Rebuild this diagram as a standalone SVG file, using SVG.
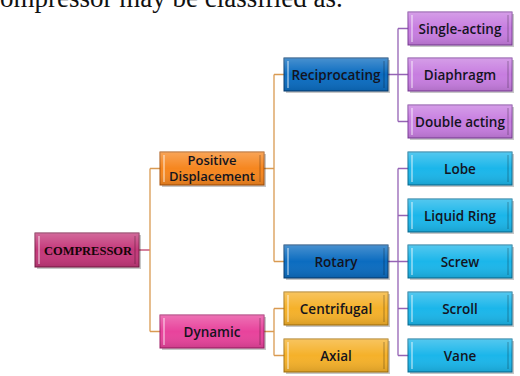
<svg xmlns="http://www.w3.org/2000/svg" width="520" height="376" viewBox="0 0 520 376">
<style>
.bg{fill:#fff}
.lbl{font-family:"Open Sans","DejaVu Sans",sans-serif;font-weight:600;font-size:13.5px;fill:#14141e;text-anchor:middle}
.lbl2{font-family:"Open Sans","DejaVu Sans",sans-serif;font-weight:600;font-size:13px;fill:#14141e;text-anchor:middle}
.root{font-family:"Liberation Serif",serif;font-weight:bold;font-size:12.5px;fill:#140508;text-anchor:middle}
.shadow{fill:#000;opacity:.22}
.sheen{fill:url(#sheen)}
.hl{stroke:#fff;stroke-opacity:.55;stroke-width:1.5}
.dk{stroke:#000;stroke-opacity:.2;stroke-width:1.5}
.mag{fill:#c4387a;stroke:#7a1c47}
.org{fill:#f6861f;stroke:#a8520c}
.pnk{fill:#e8439c;stroke:#a01f66}
.blu{fill:#0b6cc0;stroke:#083d70}
.gld{fill:#f5b12a;stroke:#a87410}
.pur{fill:#c77de0;stroke:#7e3f9c}
.cyn{fill:#1bb6ea;stroke:#0a6f96}
.c-or{fill:none;stroke:#d99a52;stroke-width:1.3}
.c-rd{fill:none;stroke:#c0406a;stroke-width:1.3}
.c-pu{fill:none;stroke:#9563b5;stroke-width:1.3}
.top{font-family:"Liberation Serif",serif;font-size:27px;fill:#111}
</style>
<defs>
<linearGradient id="sheen" x1="0" y1="0" x2="0" y2="1">
<stop offset="0" stop-color="#fff" stop-opacity=".25"/>
<stop offset=".5" stop-color="#fff" stop-opacity="0"/>
<stop offset="1" stop-color="#000" stop-opacity=".12"/>
</linearGradient>
</defs>
<rect class="bg" x="0" y="0" width="520" height="376"/>
<text class="top" x="-12" y="7">compressor may be classified as.</text>

<g id="connectors">
<path class="c-rd" d="M139 250H150"/>
<path class="c-or" d="M150 168.5V331.5M150 168.5H160M150 331.5H160"/>
<path class="c-or" d="M264 168.5H274M274 74.5V261.5M274 74.5H284M274 261.5H284"/>
<path class="c-or" d="M264 331.5H274M274 308.5V355.5M274 308.5H284M274 355.5H284"/>
<path class="c-pu" d="M388 74.5H398M398 28.5V121.5M398 28.5H408M398 74.5H408M398 121.5H408"/>
<path class="c-pu" d="M388 261.5H398M398 168.5V355.5M398 168.5H408M398 215.5H408M398 261.5H408M398 308.5H408M398 355.5H408"/>
</g>

<g id="compressor">
<rect x="37" y="235" width="104" height="34" class="shadow"/>
<rect x="35" y="233" width="104" height="34" class="mag"/>
<rect x="35" y="233" width="104" height="34" class="sheen"/>
<path class="hl" d="M39 236V264"/><path class="dk" d="M135 236V264"/>
<text class="root" x="88" y="254.5">COMPRESSOR</text>
</g>

<g id="positive-displacement">
<rect x="162" y="154" width="104" height="33" class="shadow"/>
<rect x="160" y="152" width="104" height="33" class="org"/>
<rect x="160" y="152" width="104" height="33" class="sheen"/>
<path class="hl" d="M164 155V182"/><path class="dk" d="M260 155V182"/>
<text class="lbl2" x="212" y="164.5">Positive</text>
<text class="lbl2" x="212" y="180.5">Displacement</text>
</g>

<g id="dynamic">
<rect x="162" y="317" width="104" height="33" class="shadow"/>
<rect x="160" y="315" width="104" height="33" class="pnk"/>
<rect x="160" y="315" width="104" height="33" class="sheen"/>
<path class="hl" d="M164 318V345"/><path class="dk" d="M260 318V345"/>
<text class="lbl" x="212" y="336.5">Dynamic</text>
</g>

<g id="reciprocating">
<rect x="286" y="60" width="104" height="33" class="shadow"/>
<rect x="284" y="58" width="104" height="33" class="blu"/>
<rect x="284" y="58" width="104" height="33" class="sheen"/>
<path class="hl" d="M288 61V88"/><path class="dk" d="M384 61V88"/>
<text class="lbl" x="336" y="79.5">Reciprocating</text>
</g>

<g id="rotary">
<rect x="286" y="247" width="104" height="33" class="shadow"/>
<rect x="284" y="245" width="104" height="33" class="blu"/>
<rect x="284" y="245" width="104" height="33" class="sheen"/>
<path class="hl" d="M288 248V275"/><path class="dk" d="M384 248V275"/>
<text class="lbl" x="336" y="266.5">Rotary</text>
</g>

<g id="centrifugal">
<rect x="286" y="294" width="104" height="33" class="shadow"/>
<rect x="284" y="292" width="104" height="33" class="gld"/>
<rect x="284" y="292" width="104" height="33" class="sheen"/>
<path class="hl" d="M288 295V322"/><path class="dk" d="M384 295V322"/>
<text class="lbl" x="336" y="313.5">Centrifugal</text>
</g>

<g id="axial">
<rect x="286" y="341" width="104" height="33" class="shadow"/>
<rect x="284" y="339" width="104" height="33" class="gld"/>
<rect x="284" y="339" width="104" height="33" class="sheen"/>
<path class="hl" d="M288 342V369"/><path class="dk" d="M384 342V369"/>
<text class="lbl" x="336" y="360.5">Axial</text>
</g>

<g id="single-acting">
<rect x="410" y="14" width="104" height="33" class="shadow"/>
<rect x="408" y="12" width="104" height="33" class="pur"/>
<rect x="408" y="12" width="104" height="33" class="sheen"/>
<path class="hl" d="M412 15V42"/><path class="dk" d="M508 15V42"/>
<text class="lbl" x="460" y="33.5">Single-acting</text>
</g>

<g id="diaphragm">
<rect x="410" y="60" width="104" height="33" class="shadow"/>
<rect x="408" y="58" width="104" height="33" class="pur"/>
<rect x="408" y="58" width="104" height="33" class="sheen"/>
<path class="hl" d="M412 61V88"/><path class="dk" d="M508 61V88"/>
<text class="lbl" x="460" y="79.5">Diaphragm</text>
</g>

<g id="double-acting">
<rect x="410" y="107" width="104" height="33" class="shadow"/>
<rect x="408" y="105" width="104" height="33" class="pur"/>
<rect x="408" y="105" width="104" height="33" class="sheen"/>
<path class="hl" d="M412 108V135"/><path class="dk" d="M508 108V135"/>
<text class="lbl" x="460" y="126.5">Double acting</text>
</g>

<g id="lobe">
<rect x="410" y="154" width="104" height="33" class="shadow"/>
<rect x="408" y="152" width="104" height="33" class="cyn"/>
<rect x="408" y="152" width="104" height="33" class="sheen"/>
<path class="hl" d="M412 155V182"/><path class="dk" d="M508 155V182"/>
<text class="lbl" x="460" y="173.5">Lobe</text>
</g>

<g id="liquid-ring">
<rect x="410" y="201" width="104" height="33" class="shadow"/>
<rect x="408" y="199" width="104" height="33" class="cyn"/>
<rect x="408" y="199" width="104" height="33" class="sheen"/>
<path class="hl" d="M412 202V229"/><path class="dk" d="M508 202V229"/>
<text class="lbl" x="460" y="220.5">Liquid Ring</text>
</g>

<g id="screw">
<rect x="410" y="247" width="104" height="33" class="shadow"/>
<rect x="408" y="245" width="104" height="33" class="cyn"/>
<rect x="408" y="245" width="104" height="33" class="sheen"/>
<path class="hl" d="M412 248V275"/><path class="dk" d="M508 248V275"/>
<text class="lbl" x="460" y="266.5">Screw</text>
</g>

<g id="scroll">
<rect x="410" y="294" width="104" height="33" class="shadow"/>
<rect x="408" y="292" width="104" height="33" class="cyn"/>
<rect x="408" y="292" width="104" height="33" class="sheen"/>
<path class="hl" d="M412 295V322"/><path class="dk" d="M508 295V322"/>
<text class="lbl" x="460" y="313.5">Scroll</text>
</g>

<g id="vane">
<rect x="410" y="341" width="104" height="33" class="shadow"/>
<rect x="408" y="339" width="104" height="33" class="cyn"/>
<rect x="408" y="339" width="104" height="33" class="sheen"/>
<path class="hl" d="M412 342V369"/><path class="dk" d="M508 342V369"/>
<text class="lbl" x="460" y="360.5">Vane</text>
</g>
</svg>
